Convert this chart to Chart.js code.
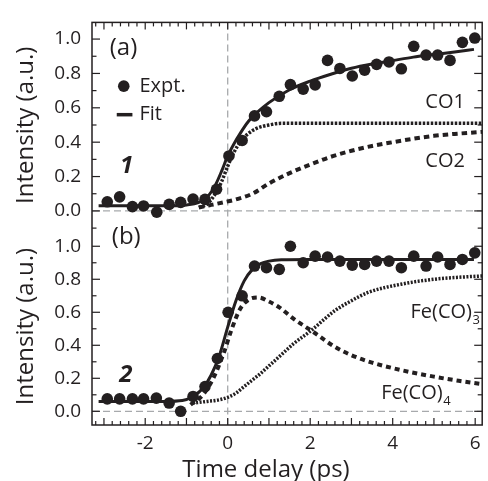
<!DOCTYPE html>
<html>
<head>
<meta charset="utf-8">
<script src="https://cdn.jsdelivr.net/npm/chart.js@4.4.1/dist/chart.umd.min.js"></script>
<style>
html,body{margin:0;padding:0;background:#fff;}
</style>
</head>
<body>
<canvas id="c" width="488" height="481"></canvas>
<script>
// ---------- tick labels ----------
const xTickLabels = [-2, 0, 2, 4, 6];
const yTickLabels = [0, 0.2, 0.4, 0.6, 0.8, 1.0];

// ---------- panel (a): compound 1 ----------
const timeA = [-2.92,-2.62,-2.31,-2.04,-1.72,-1.42,-1.14,-0.84,-0.55,-0.27,0.03,0.35,0.65,0.94,1.25,1.52,1.83,2.12,2.42,2.72,3.02,3.32,3.61,3.91,4.21,4.51,4.81,5.09,5.39,5.69,5.99];
const exptA = [0.053,0.082,0.025,0.029,-0.007,0.038,0.05,0.069,0.067,0.126,0.32,0.41,0.553,0.577,0.667,0.735,0.709,0.733,0.876,0.829,0.785,0.819,0.853,0.867,0.827,0.958,0.907,0.907,0.876,0.981,1.006];

const fitATime = [-3.13,-1.5,-1.0,-0.7,-0.5,-0.3,-0.15,0.0,0.15,0.3,0.5,0.7,1.0,1.5,2.0,2.5,3.0,3.5,4.0,4.5,5.0,5.5,5.97];
const fitA     = [0.03,0.03,0.035,0.05,0.08,0.15,0.23,0.32,0.39,0.45,0.52,0.57,0.63,0.705,0.755,0.795,0.83,0.855,0.875,0.895,0.91,0.925,0.94];

const co1Time = [-0.7,-0.5,-0.3,-0.15,0.0,0.15,0.3,0.5,0.7,1.0,1.3,2.0,6.17];
const co1     = [0.02,0.04,0.10,0.17,0.26,0.34,0.40,0.45,0.48,0.50,0.51,0.51,0.51];

const co2Time = [-0.7,-0.4,-0.1,0.2,0.6,1.0,1.5,2.0,2.5,3.0,3.5,4.0,4.5,5.0,5.5,6.17];
const co2     = [0.02,0.035,0.05,0.067,0.10,0.16,0.22,0.27,0.315,0.35,0.378,0.40,0.42,0.437,0.448,0.46];

// ---------- panel (b): compound 2 ----------
const timeB = [-2.92,-2.62,-2.31,-2.04,-1.73,-1.42,-1.14,-0.84,-0.55,-0.25,0.01,0.35,0.65,0.94,1.25,1.52,1.83,2.12,2.42,2.72,3.02,3.32,3.61,3.91,4.21,4.51,4.81,5.09,5.39,5.69,5.99];
const exptB = [0.075,0.075,0.075,0.075,0.08,0.05,0.0,0.09,0.15,0.32,0.6,0.70,0.88,0.87,0.86,1.0,0.90,0.94,0.935,0.91,0.886,0.89,0.91,0.91,0.87,0.94,0.88,0.935,0.89,0.92,0.96];

const fitBTime = [-3.13,-1.5,-1.1,-0.85,-0.6,-0.4,-0.2,0.0,0.2,0.4,0.6,0.8,1.0,1.3,2.0,3.0,4.0,5.0,5.97];
const fitB     = [0.06,0.06,0.065,0.09,0.14,0.22,0.34,0.51,0.67,0.79,0.86,0.895,0.91,0.918,0.92,0.92,0.92,0.92,0.92];

const fe4Time = [-0.9,-0.6,-0.35,-0.1,0.1,0.3,0.5,0.75,1.0,1.25,1.6,2.05,2.6,3.0,3.5,4.2,5.0,5.6,6.17];
const fe4     = [0.04,0.10,0.20,0.35,0.50,0.62,0.675,0.69,0.665,0.63,0.56,0.485,0.39,0.34,0.295,0.25,0.21,0.185,0.165];

const fe3Time = [-0.85,-0.5,-0.2,0.0,0.2,0.4,0.6,0.8,1.0,1.2,1.6,2.0,2.6,3.0,3.4,4.2,5.0,5.6,6.17];
const fe3     = [0.05,0.06,0.07,0.085,0.11,0.15,0.19,0.23,0.275,0.32,0.41,0.485,0.61,0.67,0.72,0.77,0.80,0.812,0.82];

// ---------- styling ----------
const FONT = "'Open Sans', sans-serif";
const INK = '#231f20';
const zip = (xs, ys) => xs.map((v, i) => ({x: v, y: ys[i]}));

function pts(xs, ys, axis) {
  return {data: zip(xs, ys), yAxisID: axis, showLine: false, pointRadius: 5.8,
          pointHoverRadius: 5.8, pointBackgroundColor: INK, pointBorderWidth: 0, order: 0};
}
function curve(xs, ys, axis, width, dash) {
  return {data: zip(xs, ys), yAxisID: axis, showLine: true, pointRadius: 0, borderColor: INK,
          borderWidth: width, borderDash: dash, cubicInterpolationMode: 'monotone', order: 1, fill: false};
}

function seg(ctx, x1, y1, x2, y2) { ctx.beginPath(); ctx.moveTo(x1, y1); ctx.lineTo(x2, y2); ctx.stroke(); }

const decor = {
  id: 'decor',
  beforeDatasetsDraw(chart) {
    const {ctx, chartArea: a, scales: {x, yTop, yBot}} = chart;
    ctx.save();
    ctx.strokeStyle = '#a7a9ac'; ctx.lineWidth = 1.3; ctx.setLineDash([7, 4]);
    const x0 = x.getPixelForValue(0);
    seg(ctx, x0, a.top, x0, a.bottom);
    for (const s of [yTop, yBot]) { const py = s.getPixelForValue(0); seg(ctx, a.left, py, a.right, py); }
    ctx.restore();
  },
  afterDatasetsDraw(chart) {
    const {ctx, chartArea: a, scales: {x, yTop, yBot}} = chart;
    ctx.save();
    ctx.strokeStyle = INK; ctx.lineWidth = 1.5; ctx.setLineDash([]);
    ctx.strokeRect(a.left, a.top, a.right - a.left, a.bottom - a.top);
    ctx.lineWidth = 1.2;
    // x ticks (inward), minor every 0.2, major every 1
    for (let k = -16; k <= 30; k++) {
      const v = k / 5;
      const maj = k % 5 === 0;
      const L = maj ? 7 : 4;
      const px = x.getPixelForValue(v);
      seg(ctx, px, a.bottom, px, a.bottom - L);
      seg(ctx, px, a.top, px, a.top + L);
    }
    // y ticks (inward), minor every 0.1, major every 0.2
    for (const s of [yTop, yBot]) {
      for (let k = -1; k <= 10; k++) {
        const v = k / 10;
        if (v < s.min - 1e-9 || v > s.max) continue;
        const maj = k >= 0 && k % 2 === 0;
        const L = maj ? 8 : 4.5;
        const py = s.getPixelForValue(v);
        seg(ctx, a.left, py, a.left + L, py);
        seg(ctx, a.right, py, a.right - L, py);
      }
    }
    ctx.restore();
  },
  afterDraw(chart) {
    const {ctx, scales: {x, yTop, yBot}} = chart;
    const X = v => x.getPixelForValue(v);
    ctx.save();
    ctx.fillStyle = INK; ctx.strokeStyle = INK;
    ctx.textBaseline = 'middle'; ctx.textAlign = 'left';
    // panel labels
    ctx.font = `24px ${FONT}`;
    ctx.fillText('(a)', X(-2.86), yTop.getPixelForValue(0.95));
    ctx.fillText('(b)', X(-2.81), yBot.getPixelForValue(1.053));
    // compound numbers
    ctx.font = `italic bold 24px ${FONT}`;
    ctx.textAlign = 'center';
    ctx.fillText('1', X(-2.45), yTop.getPixelForValue(0.263));
    ctx.fillText('2', X(-2.47), yBot.getPixelForValue(0.22));
    // legend
    ctx.textAlign = 'left';
    ctx.font = `20px ${FONT}`;
    ctx.beginPath(); ctx.arc(X(-2.52), yTop.getPixelForValue(0.726), 5.8, 0, Math.PI * 2); ctx.fill();
    ctx.fillText('Expt.', X(-2.14), yTop.getPixelForValue(0.726));
    ctx.lineWidth = 3.5;
    seg(ctx, X(-2.69), yTop.getPixelForValue(0.56), X(-2.31), yTop.getPixelForValue(0.56));
    ctx.fillText('Fit', X(-2.14), yTop.getPixelForValue(0.56));
    // component labels
    ctx.textAlign = 'center';
    ctx.fillText('CO1', X(5.27), yTop.getPixelForValue(0.634));
    ctx.fillText('CO2', X(5.27), yTop.getPixelForValue(0.29));
    ctx.textAlign = 'left';
    const sub = (main, s, px, py) => {
      ctx.font = `20px ${FONT}`;
      ctx.fillText(main, px, py);
      const w = ctx.measureText(main).width;
      ctx.font = `13px ${FONT}`;
      ctx.fillText(s, px + w + 0.5, py + 8);
    };
    sub('Fe(CO)', '3', X(4.43), yBot.getPixelForValue(0.60));
    sub('Fe(CO)', '4', X(3.72), yBot.getPixelForValue(0.11));
    // x axis title
    ctx.font = `24px ${FONT}`;
    ctx.textAlign = 'center'; ctx.textBaseline = 'alphabetic';
    ctx.fillText('Time delay (ps)', 266, 477);
    ctx.restore();
  }
};

function yAxis(min, max, weight) {
  return {
    type: 'linear', position: 'left', stack: 'panels', stackWeight: weight, min, max,
    grid: {display: false, drawTicks: false}, border: {display: false},
    ticks: {padding: 11, autoSkip: false, color: INK, font: {family: FONT, size: 19}, callback: v => Number(v).toFixed(1)},
    afterBuildTicks: s => { s.ticks = yTickLabels.map(v => ({value: v})); },
    afterFit: s => { s.width = 92; },
    title: {display: true, text: 'Intensity (a.u.)', color: INK, font: {family: FONT, size: 24}, padding: {top: 12, bottom: 0}}
  };
}

Chart.defaults.color = INK;
new Chart(document.getElementById('c'), {
  type: 'scatter',
  data: {
    datasets: [
      pts(timeA, exptA, 'yTop'),
      curve(fitATime, fitA, 'yTop', 3, []),
      curve(co1Time, co1, 'yTop', 3.5, [2.5, 1.5]),
      curve(co2Time, co2, 'yTop', 4, [5.5, 4]),
      pts(timeB, exptB, 'yBot'),
      curve(fitBTime, fitB, 'yBot', 3, []),
      curve(fe4Time, fe4, 'yBot', 4, [5, 4]),
      curve(fe3Time, fe3, 'yBot', 3.5, [2, 1.5])
    ]
  },
  options: {
    responsive: false, animation: false, devicePixelRatio: 1,
    layout: {padding: {top: 14, right: 1, left: 0, bottom: 0}},
    plugins: {legend: {display: false}, tooltip: {enabled: false}},
    scales: {
      x: {
        type: 'linear', position: 'bottom', min: -3.29, max: 6.17,
        grid: {display: false, drawTicks: false}, border: {display: false},
        ticks: {padding: 7, maxRotation: 0, autoSkip: false, color: INK, font: {family: FONT, size: 19}, callback: v => String(v)},
        afterBuildTicks: s => { s.ticks = xTickLabels.map(v => ({value: v})); },
        afterFit: s => { s.height = 56; }
      },
      // the stack is laid out bottom-up: the first axis listed is the lower panel
      yBot: yAxis(-0.083, 1.11, 201),
      yTop: yAxis(-0.1, 1.097, 210)
    }
  },
  plugins: [decor]
});
</script>
</body>
</html>
